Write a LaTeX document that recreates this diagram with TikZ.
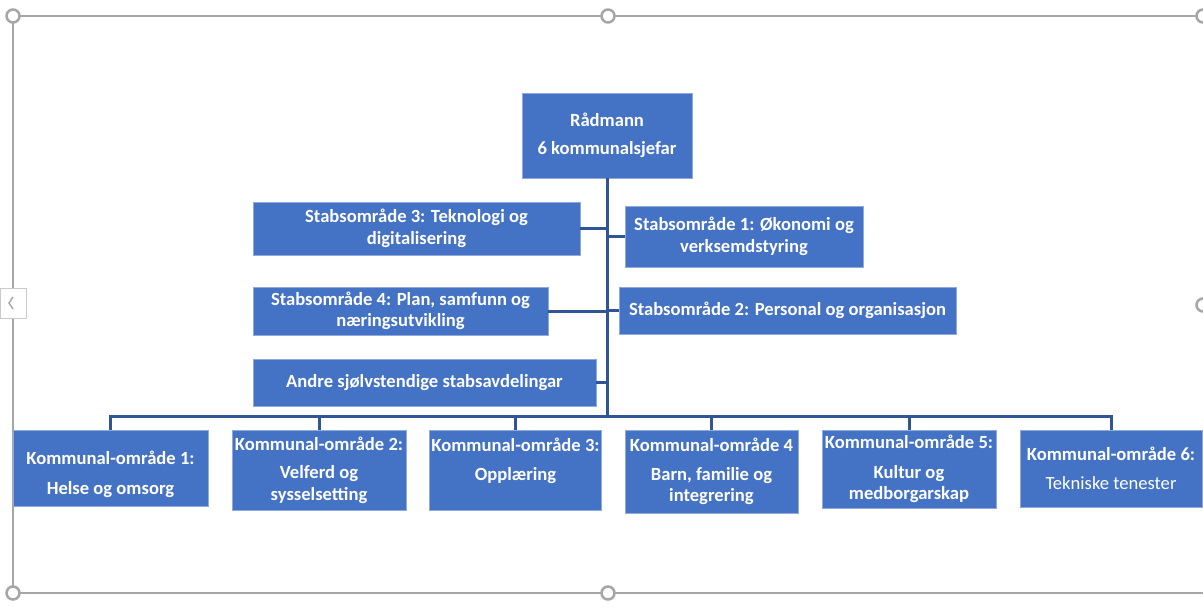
\documentclass[tikz,border=0pt]{standalone}
\usepackage{fontspec}
\setmainfont{Carlito}
\usetikzlibrary{positioning}
\definecolor{boxblue}{HTML}{4472C4}
\definecolor{boxedge}{HTML}{8FAADC}
\definecolor{linkblue}{HTML}{2F5597}
\definecolor{framegrey}{HTML}{A6A6A6}

\begin{document}
\begin{tikzpicture}[x=1pt,y=-1pt,
    box/.style={draw=boxedge,line width=0.8pt,fill=boxblue,text=white,align=center,inner sep=2pt,
        font=\fontsize{18.6}{21.5}\selectfont\bfseries},
    link/.style={draw=linkblue,line width=3pt},
    frame/.style={draw=framegrey,line width=1.5pt},
    handle/.style={draw=framegrey,line width=2.5pt,fill=white}]

    \useasboundingbox (0,0) rectangle (1203,607);

    % selection frame
    \draw[frame] (13,16) -- (1203,16);
    \draw[frame] (13,16) -- (13,593) -- (1203,593);
    \foreach \hx/\hy in {13/16,608/16,1203/16,13/593,608/593,1203/305}
        \draw[handle] (\hx,\hy) circle (6.5);
    \draw[draw=framegrey!60,fill=white,line width=0.8pt] (0,288) rectangle (26,318);
    \draw[framegrey,line width=1.5pt] (13,297) -- (9,303) -- (13,309);

    % top
    \node[box,minimum width=170pt,minimum height=85pt] (rad) at (607,135.5) {Rådmann\\[6pt]6 kommunalsjefar};

    % stab
    \node[box,minimum width=327pt,minimum height=53pt] (stab3) at (416.5,228.5) {Stabsområde 3: Teknologi og\\digitalisering};
    \node[box,minimum width=238pt,minimum height=61pt] (stab1) at (744,236.5) {Stabsområde 1: Økonomi og\\verksemdstyring};
    \node[box,minimum width=295pt,minimum height=48pt] (stab4) at (400.5,311) {Stabsområde 4: Plan, samfunn og\\næringsutvikling};
    \node[box,minimum width=337pt,minimum height=47pt] (stab2) at (787.5,310.5) {Stabsområde 2: Personal og organisasjon};
    \node[box,minimum width=343pt,minimum height=47pt] (andre) at (424.5,382.5) {Andre sjølvstendige stabsavdelingar};

    % kommunalområde
    \node[box,minimum width=195pt,minimum height=76pt] (k1) at (110.5,468) {\rule{0pt}{26pt}Kommunal-område 1:\\[9pt]Helse og omsorg};
    \node[box,minimum width=174pt,minimum height=80pt] (k2) at (319,470) {Kommunal-område 2:\\[7pt]Velferd og\\sysselsetting};
    \node[box,minimum width=171pt,minimum height=80pt] (k3) at (515.5,470) {Kommunal-område 3:\\[7pt]Opplæring\\\mbox{}};
    \node[box,minimum width=173pt,minimum height=83pt] (k4) at (711.5,471.5) {Kommunal-område 4\\[7pt]Barn, familie og\\integrering};
    \node[box,minimum width=174pt,minimum height=78pt] (k5) at (909,469) {Kommunal-område 5:\\[8pt]Kultur og\\medborgarskap};
    \node[box,minimum width=182pt,minimum height=77pt] (k6) at (1111,468.5) {Kommunal-område 6:\\[7pt]{\mdseries Tekniske tenester}};

    \coordinate (bus) at (607,416);

    \draw[link] (rad.south) -- (bus);
    \foreach \s in {stab3,stab1,stab4,stab2,andre}
        \draw[link] (\s) -- (\s -| rad);
    \draw[link] (k1) |- (bus) -| (k6);
    \foreach \k in {k2,k3,k4,k5}
        \draw[link] (\k) -- (\k |- bus);

\end{tikzpicture}
\end{document}
